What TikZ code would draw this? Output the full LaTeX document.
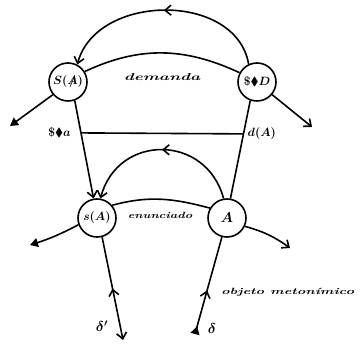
\documentclass[tikz,border=0pt]{standalone}
\usepackage{amsmath,amssymb}
\usepackage{graphicx}
\usetikzlibrary{positioning, calc, arrows.meta, decorations.markings}

\newcommand{\Abar}{\ooalign{$A$\cr\hidewidth$/$\hidewidth\cr}}
\newcommand{\hand}[2][1.8]{\scalebox{#1}[1]{#2}}

\tikzset{
  place/.style={draw, circle, line width=1.6pt, minimum size=38pt, inner sep=0pt, font=\large\boldmath\bfseries},
  wire/.style={line width=1.6pt},
  lbl/.style={font=\boldmath\bfseries\itshape, inner sep=1pt},
  barb/.style={-{Straight Barb[length=6pt,width=10pt]}},
  tri/.style={-{Triangle[length=8pt,width=9pt]}},
  midarrow/.style={postaction={decorate}, decoration={markings,
      mark=at position #1 with {\arrow{Straight Barb[length=6pt,width=10pt]}}}},
  midback/.style={postaction={decorate}, decoration={markings,
      mark=at position #1 with {\arrowreversed{Straight Barb[length=6pt,width=10pt]}}}},
}

\begin{document}
\begin{tikzpicture}[x=1pt, y=1pt]
  \useasboundingbox (0,0) rectangle (361,350);

  % the four points of the graph
  \node[place] (SA) at (68,268) {$S(\Abar)$};
  \node[place] (SD) at (257,268) {\$$\blacklozenge$$D$};
  \node[place] (sA) at (97,132) {$s(A)$};
  \node[place] (A) at (227,132) {\Large$A$};

  % free ends
  \coordinate (SAout) at (10,224);
  \coordinate (SDout) at (312,223);
  \coordinate (sAout) at (30,105);
  \coordinate (Aout) at (290,102);
  \coordinate (sAdown) at (123,10);
  \coordinate (Aup) at (195,16);

  % upper floor
  \draw[wire, barb, midarrow=0.5] (SD.115) to[out=100, in=75, looseness=1.1] (SA.62);
  \draw[wire] (SA.32) to[out=25, in=155] (SD.152);
  \draw[wire, tri] (SA.220) -- (SAout);
  \draw[wire, barb] (SD.320) -- (SDout);

  % the two verticals
  \draw[wire, barb] (SA.290) -- coordinate[pos=0.33] (sa) (sA.100);
  \draw[wire] (SD.250) -- coordinate[pos=0.34] (da) (A.80);
  \draw[wire] (sa) -- (da);

  % lower floor
  \draw[wire, barb, midarrow=0.5] (A.100) to[out=105, in=75, looseness=1.4] (sA.80);
  \draw[wire] (sA.40) to[out=15, in=165] (A.150);
  \draw[wire, tri] (sA.200) to[bend left=5] (sAout);
  \draw[wire, barb] (A.335) to[bend left=10] (Aout);
  \draw[wire, barb, midback=0.5] (sA.285) -- (sAdown);
  \draw[wire, {Triangle[reversed, length=8pt, width=9pt]}-, midarrow=0.45] (Aup) -- (A.255);

  % labels
  \node[lbl, left=9pt of sa, font=\large\boldmath\bfseries] (sal) {\$$\blacklozenge$$a$};
  \node[lbl, right=3pt of da, font=\large\boldmath\bfseries] (dal) {$d(A)$};
  \node[lbl] (dem) at (162,273) {\hand[1.7]{demanda}};
  \node[lbl, font=\bfseries\itshape\small] (enu) at (160,135) {\hand[1.4]{enunciado}};
  \node[lbl, anchor=west, font=\bfseries\itshape\small] (obj) at (220,58) {\hand[1.6]{objeto metonímico}};
  \node[lbl] (d1) at (102,24) {\Large$\delta'$};
  \node[lbl] (d2) at (212,21) {\Large$\delta$};
\end{tikzpicture}
\end{document}
